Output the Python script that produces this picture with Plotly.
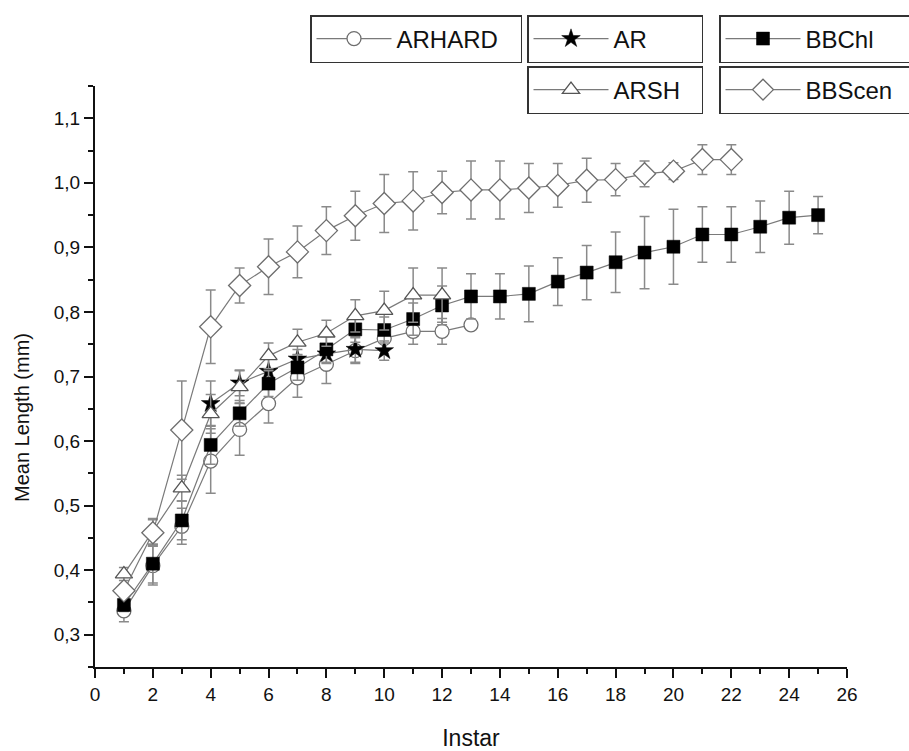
import plotly.graph_objects as go

# ---- data ----
arhard_x = list(range(1, 14))
arhard_y = [0.337, 0.407, 0.468, 0.569, 0.618, 0.658, 0.698, 0.719, 0.740, 0.759, 0.770, 0.770, 0.780]
arhard_e = [0.017, 0.03, 0.028, 0.05, 0.04, 0.03, 0.03, 0.03, 0.02, 0.02, 0.02, 0.02, 0.005]

ar_x = list(range(4, 11))
ar_y = [0.658, 0.690, 0.708, 0.727, 0.735, 0.742, 0.740]
ar_e = [0.035, 0.02, 0.02, 0.015, 0.015, 0.02, 0.015]

bbchl_x = list(range(1, 26))
bbchl_y = [0.346, 0.41, 0.477, 0.594, 0.643, 0.689, 0.714, 0.742, 0.773, 0.772, 0.789, 0.810,
           0.824, 0.824, 0.828, 0.847, 0.861, 0.877, 0.892, 0.901, 0.920, 0.920, 0.932, 0.946, 0.950]
bbchl_e = [0.01, 0.03, 0.03, 0.03, 0.02, 0.02, 0.02, 0.02, 0.02, 0.02, 0.025, 0.03,
           0.035, 0.035, 0.043, 0.037, 0.042, 0.047, 0.056, 0.058, 0.043, 0.043, 0.04, 0.041, 0.029]

arsh_x = list(range(1, 13))
arsh_y = [0.394, 0.46, 0.527, 0.642, 0.684, 0.732, 0.753, 0.767, 0.794, 0.802, 0.826, 0.826]
arsh_e = [0.01, 0.02, 0.02, 0.03, 0.025, 0.02, 0.02, 0.02, 0.025, 0.03, 0.042, 0.042]

bbscen_x = list(range(1, 23))
bbscen_y = [0.368, 0.458, 0.617, 0.777, 0.841, 0.870, 0.893, 0.926, 0.949, 0.968, 0.972, 0.985,
            0.989, 0.989, 0.992, 0.996, 1.004, 1.005, 1.014, 1.018, 1.036, 1.036]
bbscen_e = [0.01, 0.02, 0.076, 0.057, 0.027, 0.043, 0.04, 0.037, 0.038, 0.045, 0.045, 0.033,
            0.045, 0.045, 0.038, 0.034, 0.034, 0.025, 0.02, 0.013, 0.023, 0.023]

LINE = "#7a7a7a"
ERR = "#8a8a8a"
FONT = "Liberation Sans, Arial, sans-serif"
W, H = 909, 751

series = [
    ("ARHARD", arhard_x, arhard_y, arhard_e, dict(symbol="circle", size=14, color="white", line=dict(color="#6e6e6e", width=1.3)), "legend"),
    ("AR", ar_x, ar_y, ar_e, dict(symbol="star", size=14, color="black", line=dict(color="black", width=0.5)), "legend2"),
    ("BBChl", bbchl_x, bbchl_y, bbchl_e, dict(symbol="square", size=13, color="black", line=dict(color="black", width=0.5)), "legend3"),
    ("ARSH", arsh_x, arsh_y, arsh_e, dict(symbol="triangle-up", size=15, color="white", line=dict(color="#555555", width=1.3)), "legend4"),
    ("BBScen", bbscen_x, bbscen_y, bbscen_e, dict(symbol="diamond", size=17, color="white", line=dict(color="#6e6e6e", width=1.3)), "legend5"),
]

fig = go.Figure()
for name, x, y, e, mk, lg in series:
    fig.add_trace(go.Scatter(
        x=x, y=y, name=name, mode="lines+markers",
        line=dict(color=LINE, width=1.2),
        marker=mk,
        error_y=dict(type="data", array=e, visible=True, color=ERR, thickness=1.5, width=5),
        legend=lg, showlegend=True,
    ))

ML, MR, MT, MB = 95, 62, 86, 84
PW, PH = W - ML - MR, H - MT - MB

def px(xp):
    return (xp - ML) / PW

def py(yp):
    return (H - MB - yp) / PH

def leg(x, y, ew):
    return dict(x=px(x), y=py(y), xref="paper", yref="paper", xanchor="left", yanchor="top",
                orientation="h", bgcolor="white", bordercolor="#333333", borderwidth=1.5,
                font=dict(family=FONT, size=24, color="#111111"), itemwidth=75,
                entrywidth=ew, tracegroupgap=0, visible=True)

fig.update_layout(
    width=W, height=H,
    margin=dict(l=ML, r=MR, t=MT, b=MB, autoexpand=False),
    paper_bgcolor="white", plot_bgcolor="white",
    separators=", ",
    showlegend=True,
    font=dict(family=FONT, color="#111111"),
    legend=leg(310, 15, 119),
    legend2=leg(527, 15, 83),
    legend3=leg(719, 15, 100),
    legend4=leg(527, 66, 83),
    legend5=leg(719, 66, 100),
    xaxis=dict(
        range=[0, 26], dtick=2, tick0=0, showgrid=False, zeroline=False, automargin=False,
        showline=True, linecolor="#111111", linewidth=2,
        ticks="outside", ticklen=9, tickwidth=2, tickcolor="#111111",
        minor=dict(dtick=1, ticks="outside", ticklen=5, tickwidth=2, tickcolor="#111111"),
        tickfont=dict(size=19, family=FONT),
        title=dict(text="Instar", font=dict(size=23, family=FONT), standoff=27),
    ),
    yaxis=dict(
        range=[0.25, 1.15], dtick=0.1, tick0=0.3, tickformat=".1f", showgrid=False, zeroline=False,
        automargin=False,
        showline=True, linecolor="#111111", linewidth=2,
        ticks="outside", ticklen=9, tickwidth=2, tickcolor="#111111",
        minor=dict(dtick=0.05, tick0=0.25, ticks="outside", ticklen=5, tickwidth=2, tickcolor="#111111"),
        tickfont=dict(size=19, family=FONT),
    ),
    annotations=[dict(
        text="Mean Length (mm)", textangle=-90, showarrow=False,
        xref="paper", yref="paper", x=px(22), y=py(418), xanchor="center", yanchor="middle",
        font=dict(size=20, family=FONT, color="#111111"),
    )],
)

fig.write_html("out.html")
